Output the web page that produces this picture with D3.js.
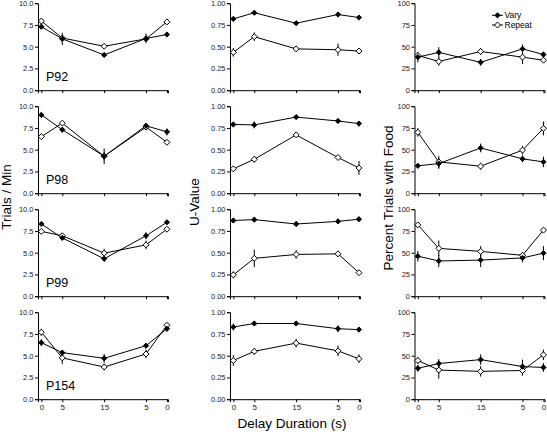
<!DOCTYPE html>
<html><head><meta charset="utf-8">
<script src="https://cdn.jsdelivr.net/npm/d3@7"></script>
<style>body{margin:0;background:#fff}svg{display:block}text{font-family:"Liberation Sans",Arial,sans-serif}</style>
</head><body><svg id="c" width="547" height="436"></svg>
<script>
const delayLabels = ["0", "5", "15", "5", "0"];
const delayPos = [0, 5, 15, 25, 30];
const subjects = ["P92", "P98", "P99", "P154"];

const rateVary = [[7.3,5.9,4.05,5.95,6.4],[9.0,7.3,4.25,7.75,7.05],[8.3,6.7,4.3,6.95,8.5],[6.5,5.35,4.7,6.15,8.1]];
const rateVaryErr = [[0.2,0.7,0.2,0.55,0.15],[0.3,0.3,0.9,0.3,0.4],[0.2,0.2,0.3,0.4,0.2],[0.4,0.3,0.5,0.2,0.3]];
const rateRepeat = [[7.95,6.0,5.05,5.9,7.85],[6.5,8.05,4.25,7.6,5.85],[7.45,6.95,4.95,5.9,7.7],[7.7,4.75,3.7,5.2,8.5]];
const rateRepeatErr = [[0.2,0.3,0.2,0.3,0.2],[0.2,0.2,0.5,0.3,0.2],[0.2,0.2,0.5,0.5,0.2],[0.4,0.7,0.4,0.5,0.3]];

const uVary = [[0.82,0.89,0.77,0.87,0.835],[0.79,0.785,0.875,0.83,0.80],[0.87,0.88,0.83,0.86,0.885],[0.83,0.87,0.87,0.81,0.80]];
const uVaryErr = [[0.02,0.02,0.02,0.03,0.02],[0.02,0.04,0.01,0.02,0.03],[0.02,0.02,0.03,0.02,0.02],[0.04,0.02,0.02,0.04,0.02]];
const uRepeat = [[0.435,0.615,0.475,0.465,0.45],[0.28,0.39,0.67,0.41,0.29],[0.245,0.435,0.48,0.487,0.27],[0.445,0.55,0.645,0.555,0.465]];
const uRepeatErr = [[0.05,0.05,0.03,0.07,0.02],[0.02,0.04,0.03,0.02,0.08],[0.04,0.1,0.05,0.02,0.02],[0.06,0.04,0.05,0.06,0.05]];

const foodVary = [[38,43.5,32,47.5,41],[31.5,34,52,39.5,36],[46,40.5,41.5,44,49.5],[35.5,41,45.5,37.5,36.5]];
const foodVaryErr = [[6,6,4,5,3],[2,6,5,4,6],[6,7,8,5,8],[4,5,6,8,5]];
const foodRepeat = [[40,33,44.5,38,34.5],[70,36,31,49.5,74.5],[82,55,51.5,47,76],[44.5,33.5,32,33,51]];
const foodRepeatErr = [[3,5,4,8,2],[5,7,4,5,8],[2,9,6,4,2],[4,10,6,6,6]];

const yTicks1 = [0, 2.5, 5, 7.5, 10];
const yTicks2 = [0, 0.25, 0.5, 0.75, 1];
const yTicks3 = [0, 25, 50, 75, 100];

const columns = [
  {title: "Trials / Min", vary: rateVary, varyErr: rateVaryErr, rep: rateRepeat, repErr: rateRepeatErr, max: 10, ticks: yTicks1, fmt: d3.format(".1f")},
  {title: "U-Value", vary: uVary, varyErr: uVaryErr, rep: uRepeat, repErr: uRepeatErr, max: 1, ticks: yTicks2, fmt: d3.format(".2f")},
  {title: "Percent Trials with Food", vary: foodVary, varyErr: foodVaryErr, rep: foodRepeat, repErr: foodRepeatErr, max: 100, ticks: yTicks3, fmt: d3.format("d")}
];

const svg = d3.select("#c");
const colX = [38, 230, 414.5];
const panelW = 130;
const rowTop = 3.2, rowStep = 103, panelH = 87;
const diamond = r => `M0,${-r}L${r},0L0,${r}L${-r},0Z`;

columns.forEach((col, ci) => {
  const x = d3.scaleLinear().domain([-0.8, 30.25]).range([colX[ci], colX[ci] + panelW]);
  subjects.forEach((subj, ri) => {
    const top = rowTop + ri * rowStep;
    const y = d3.scaleLinear().domain([0, col.max]).range([top + panelH, top]);
    const g = svg.append("g");
    // y axis
    const ya = g.append("g").attr("transform", `translate(${colX[ci]},0)`)
      .call(d3.axisLeft(y).tickValues(col.ticks).tickFormat(col.fmt).tickSizeOuter(0).tickSize(3).tickPadding(1.5));
    ya.selectAll("text").attr("font-size", 7.5).attr("fill", "#222");
    // x axis
    const xa = g.append("g").attr("transform", `translate(0,${top + panelH})`)
      .call(d3.axisBottom(x).tickValues(delayPos).tickFormat((d, i) => ri === 3 ? delayLabels[i] : "").tickSizeOuter(0).tickSize(3).tickPadding(2));
    xa.selectAll("text").attr("font-size", 8).attr("fill", "#222");
    g.selectAll(".domain").attr("stroke", "#000");
    g.selectAll(".tick line").attr("stroke", "#000");

    const series = [
      {vals: col.rep[ri], errs: col.repErr[ri], fill: "#fff", r: 3},
      {vals: col.vary[ri], errs: col.varyErr[ri], fill: "#000", r: 2.6}
    ];
    const line = d3.line().x((d, i) => x(delayPos[i])).y(d => y(d));
    series.forEach(s => {
      g.append("path").attr("d", line(s.vals)).attr("fill", "none").attr("stroke", "#000").attr("stroke-width", 1);
      g.selectAll(null).data(s.vals).enter().append("line")
        .attr("x1", (d, i) => x(delayPos[i])).attr("x2", (d, i) => x(delayPos[i]))
        .attr("y1", (d, i) => y(d - s.errs[i])).attr("y2", (d, i) => y(d + s.errs[i]))
        .attr("stroke", "#000").attr("stroke-width", 1);
    });
    series.forEach(s => {
      g.selectAll(null).data(s.vals).enter().append("path")
        .attr("transform", (d, i) => `translate(${x(delayPos[i])},${y(d)})`)
        .attr("d", diamond(s.r)).attr("fill", s.fill).attr("stroke", "#000").attr("stroke-width", 1);
    });
    if (ci === 0) {
      g.append("text").attr("x", colX[0] + 8).attr("y", top + panelH - 9.5)
        .attr("font-size", 12.5).text(subj);
    }
  });
});

// Y titles
const yTitles = [{x: 11, cy: 197}, {x: 198.5, cy: 202}, {x: 393, cy: 198}];
yTitles.forEach((t, i) => {
  svg.append("text").attr("transform", `translate(${t.x},${t.cy}) rotate(-90)`)
    .attr("text-anchor", "middle").attr("font-size", 13.5).text(columns[i].title);
});
svg.append("text").attr("x", 292).attr("y", 428).attr("text-anchor", "middle")
  .attr("font-size", 13.5).text("Delay Duration (s)");

// Legend
const legend = [{label: "Vary", fill: "#000", r: 2.6, y: 15.3}, {label: "Repeat", fill: "#fff", r: 3, y: 25}];
legend.forEach(l => {
  svg.append("line").attr("x1", 492).attr("x2", 503).attr("y1", l.y).attr("y2", l.y).attr("stroke", "#000");
  svg.append("path").attr("transform", `translate(497.5,${l.y})`).attr("d", diamond(l.r))
    .attr("fill", l.fill).attr("stroke", "#000");
  svg.append("text").attr("x", 504.5).attr("y", l.y + 3).attr("font-size", 8.5).text(l.label);
});
</script></body></html>
